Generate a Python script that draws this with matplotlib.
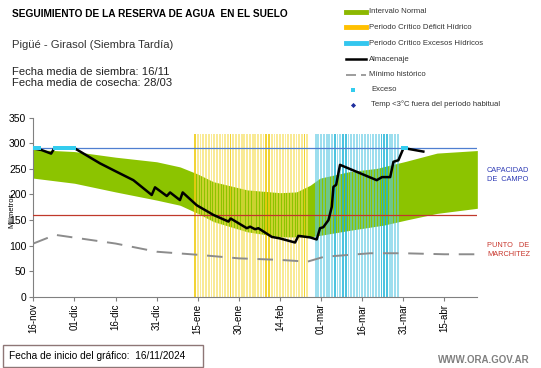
import numpy as np
import matplotlib
matplotlib.use("Agg")
import matplotlib.pyplot as plt
from matplotlib.lines import Line2D
from matplotlib.patches import Rectangle

plt.rcParams['font.family'] = ['Liberation Sans', 'DejaVu Sans']

# days counted from 16-nov-2024
tick_days = [0, 15, 30, 45, 60, 75, 90, 105, 120, 135, 150]
tick_labels = ["16-nov", "01-dic", "16-dic", "31-dic", "15-ene", "30-ene",
               "14-feb", "01-mar", "16-mar", "31-mar", "15-abr"]

# intervalo normal (green band)
band_up_days = [0, 15, 30, 45, 53.5, 60, 65.7, 78, 90, 96, 101, 104.6, 115.6, 125.3, 136, 147.3, 162]
band_up = [288, 284, 273, 264, 254, 240, 225, 209, 203.5, 205, 218, 232, 245, 251, 265, 281, 286]
band_lo_days = [0, 15, 30, 45, 53.5, 60, 65.7, 78, 90, 101, 104.6, 115.6, 127.8, 136, 147.3, 162]
band_lo = [232, 222, 205, 189, 179, 163, 147, 127, 117, 117, 120, 130, 140, 150, 163, 173]

# almacenaje (black line)
alm_days = [0, 3, 6.5, 7.6, 15.2, 24.3, 29.8, 36.5, 43.2, 44.4, 48.7, 49.9, 53.5, 54.5,
            59.6, 65.7, 71.2, 72, 77.9, 79.1, 80.9, 82.1, 87, 90, 95.5, 96.7, 101, 103.4,
            104.6, 105.8, 107.7, 108.9, 109.5, 110.5, 111.9, 125.3, 127.2, 130.2, 131.4,
            133.2, 135, 136, 142.3]
alm_vals = [290, 287, 280, 290, 290, 261, 246, 228, 199, 214, 197, 204, 189, 204,
            179, 160, 147, 153, 134, 137, 132, 134, 117, 114, 106, 119, 116, 112,
            134, 136, 150, 176, 215, 219, 258, 228, 234, 234, 264,
            267, 290, 290, 284]

# minimo historico
min_days = [0, 8, 30, 45, 60, 75, 90, 100, 106, 123, 135, 150, 162]
min_vals = [104, 121, 104, 88, 82, 75, 72, 68.5, 78, 85, 85, 83, 83]

# exceso (cyan marks on the storage line)
exc_days = [0, 1, 2, 8, 9, 10, 11, 12, 13, 14, 15, 135, 136]
exc_vals = [290] * len(exc_days)

# critical periods (one bar per day)
deficit_days = list(range(59, 101))
deficit_dark = [59, 72, 85, 86, 99]
exceso_days = list(range(103, 134))
exceso_dark = [110, 113, 114, 127, 128, 129]
bar_height = 318

capacidad = 290
marchitez = 160

fig = plt.figure(figsize=(5.41, 3.68), dpi=100)
ax = fig.add_axes([0.0616, 0.1938, 0.8207, 0.486])

xs = np.linspace(0, 162, 400)
ax.fill_between(xs, np.interp(xs, band_lo_days, band_lo), np.interp(xs, band_up_days, band_up),
                color='#8CC400', linewidth=0, zorder=1)

for d in deficit_days:
    if d in deficit_dark:
        ax.bar(d, bar_height, width=0.6, color='#F0CC10', alpha=0.85, linewidth=0, zorder=2)
    else:
        ax.bar(d, bar_height, width=0.68, color='#F5DC50', alpha=0.6, linewidth=0, zorder=2)
for d in exceso_days:
    if d in exceso_dark:
        ax.bar(d, bar_height, width=0.6, color='#20B4D8', alpha=0.8, linewidth=0, zorder=2)
    else:
        ax.bar(d, bar_height, width=0.68, color='#5CC8E4', alpha=0.6, linewidth=0, zorder=2)

ax.axhline(capacidad, color='#4F7FD0', lw=0.9, zorder=3)
ax.axhline(marchitez, color='#C0392B', lw=0.9, zorder=3)

ax.plot(min_days, min_vals, color='#8C8C8C', lw=1.4, dashes=(8, 5), zorder=4)
ax.plot(alm_days, alm_vals, color='black', lw=1.8, zorder=5)
ax.plot(exc_days, exc_vals, 's', color='#33CCEE', ms=2.6, mew=0, zorder=6)

ax.set_xlim(0, 162)
ax.set_ylim(0, 350)
ax.set_xticks(tick_days)
ax.set_xticklabels(tick_labels, rotation=90, fontsize=7)
ax.set_yticks(range(0, 351, 50))
ax.tick_params(axis='y', labelsize=7.5, length=3, color='#808080', pad=2)
ax.tick_params(axis='x', length=3, color='#808080', pad=2)
for s in ['top', 'right']:
    ax.spines[s].set_visible(False)
for s in ['left', 'bottom']:
    ax.spines[s].set_color('#808080')

fig.text(12 / 541, 1 - 210 / 368, 'Milímetros', rotation=90, fontsize=5.5,
         ha='center', va='center')

fig.text(487 / 541, 1 - 175 / 368, 'CAPACIDAD\nDE  CAMPO', color='#2E3BB5', fontsize=5.3,
         ha='left', va='center', linespacing=1.5)
fig.text(487 / 541, 1 - 250 / 368, 'PUNTO   DE\nMARCHITEZ', color='#C8372D', fontsize=5.3,
         ha='left', va='center', linespacing=1.5)

# header texts
fig.text(12 / 541, 1 - 14 / 368, 'SEGUIMIENTO DE LA RESERVA DE AGUA  EN EL SUELO',
         fontsize=7.3, fontweight='bold', va='center')
fig.text(12 / 541, 1 - 45 / 368, 'Pigüé - Girasol (Siembra Tardía)', fontsize=8.1,
         color='#333333', va='center')
fig.text(12 / 541, 1 - 72 / 368, 'Fecha media de siembra: 16/11', fontsize=8.1,
         color='#222222', va='center')
fig.text(12 / 541, 1 - 83.5 / 368, 'Fecha media de cosecha: 28/03', fontsize=8.1,
         color='#222222', va='center')

# legend drawn by hand
leg_rows = [11.7, 27.3, 43.3, 59.3, 74.5, 89.5, 104.5]
leg_names = ['Intervalo Normal', 'Periodo Crítico Déficit Hídrico',
             'Periodo Crítico Excesos Hídricos', 'Almacenaje', 'Mínimo histórico',
             'Exceso', 'Temp <3°C fuera del período habitual']
x0, x1, xt = 346 / 541, 366 / 541, 369 / 541
for i, (r, name) in enumerate(zip(leg_rows, leg_names)):
    y = 1 - r / 368
    if i == 0:
        fig.add_artist(Line2D([x0, x1], [y, y], color='#8CB800', lw=3.5))
    elif i == 1:
        fig.add_artist(Line2D([x0, x1], [y, y], color='#FFC000', lw=3.5))
    elif i == 2:
        fig.add_artist(Line2D([x0, x1], [y, y], color='#33C6EE', lw=3.5))
    elif i == 3:
        fig.add_artist(Line2D([x0, x1], [y, y], color='black', lw=1.8))
    elif i == 4:
        fig.add_artist(Line2D([x0, x1], [y, y], color='#8C8C8C', lw=1.2, dashes=(6, 3)))
    elif i == 5:
        fig.add_artist(Line2D([353 / 541], [y], marker='s', color='#33CCEE', ms=2.2, mew=0))
    else:
        fig.add_artist(Line2D([353 / 541], [y], marker='D', color='#1F2E9E', ms=2.6, mew=0))
    tx = xt if i < 5 else 371 / 541
    fig.text(tx, y, name, fontsize=5.6, color='#333333', va='center')

# footer
fig.add_artist(Rectangle((3 / 541, 1 - 367 / 368), 200 / 541, 22 / 368,
                         transform=fig.transFigure, fill=False, edgecolor='#8E7676', lw=1))
fig.text(9 / 541, 1 - 356 / 368, 'Fecha de inicio del gráfico:  16/11/2024', fontsize=7.3,
         va='center')
fig.text(530 / 541, 1 - 360 / 368, 'WWW.ORA.GOV.AR', fontsize=7, color='#808080',
         fontweight='bold', ha='right', va='center')

fig.savefig('out.png', dpi=100)
